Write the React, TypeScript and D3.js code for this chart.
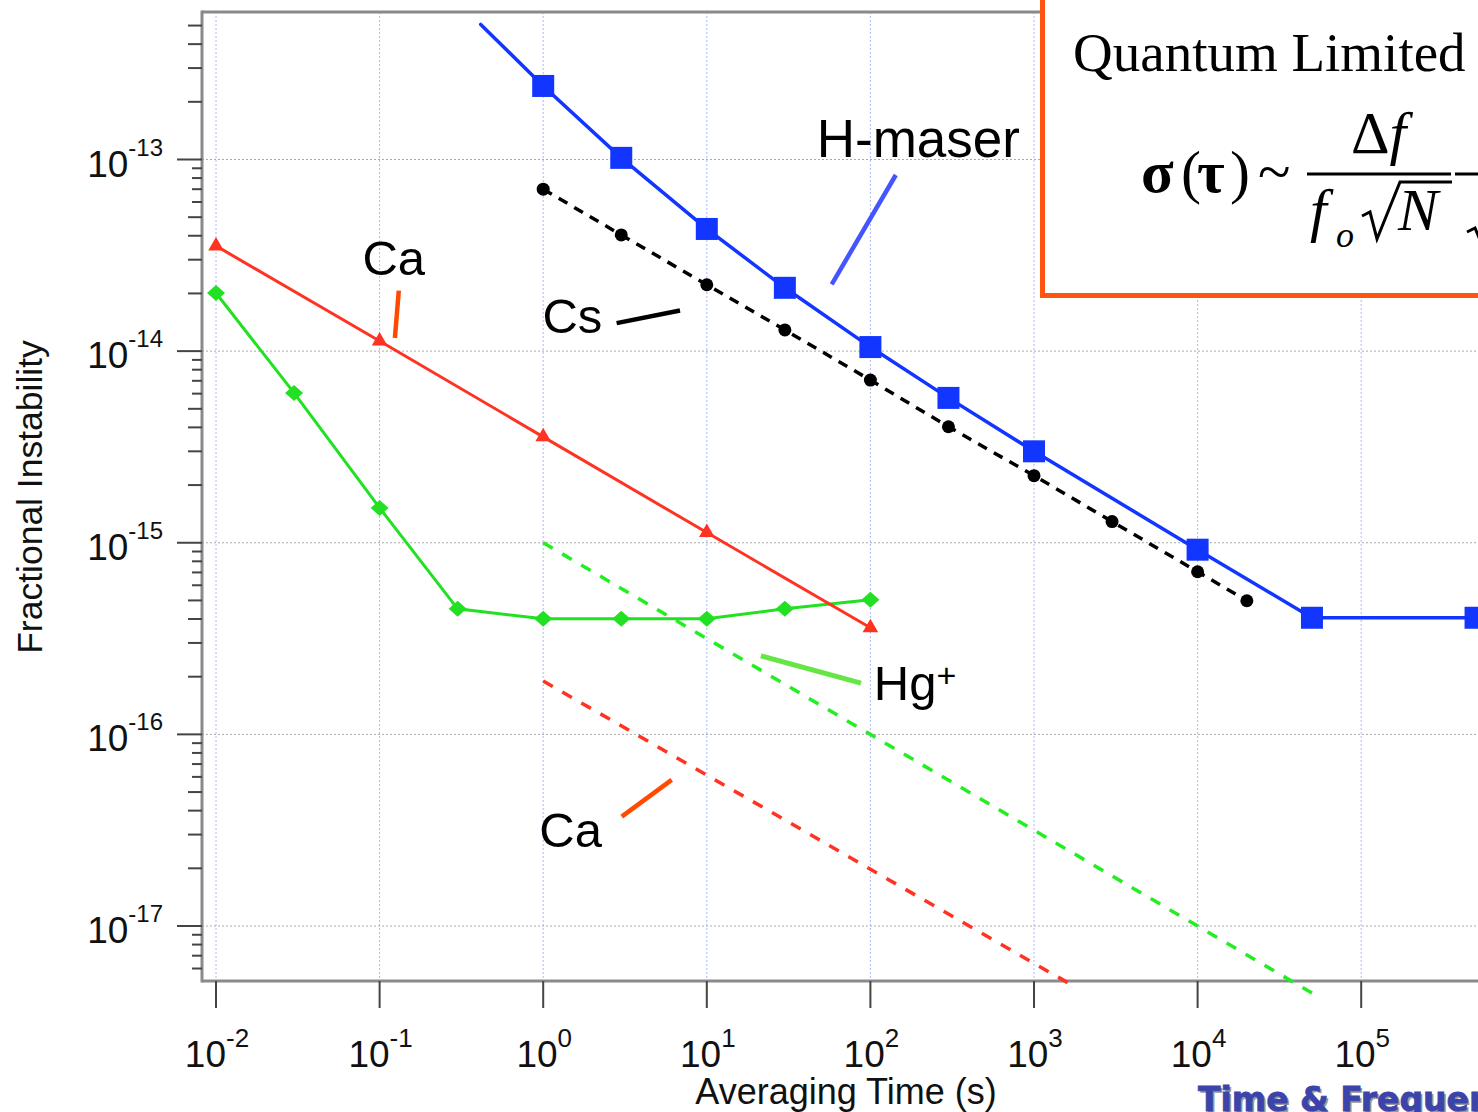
import React from 'react';
import * as d3 from 'd3';

const W = 1478;
const H = 1112;

// ---------- data ----------
const hmaserTau = [1, 3, 10, 30, 100, 300, 1000, 10000, 50000, 500000];
const hmaserSigma = [2.42e-13, 1.02e-13, 4.34e-14, 2.14e-14, 1.05e-14, 5.7e-15, 3.0e-15, 9.2e-16, 4.06e-16, 4.06e-16];
const hmaserLeadTau = [0.415, 1];
const hmaserLeadSigma = [5.07e-13, 2.42e-13];
const hmaserTailTau = [500000, 3000000];
const hmaserTailSigma = [4.06e-16, 4.06e-16];

const csTau = [1, 3, 10, 30, 100, 300, 1000, 3000, 10000, 20000];
const csSigma = [7.0e-14, 4.04e-14, 2.22e-14, 1.29e-14, 7.06e-15, 4.03e-15, 2.24e-15, 1.29e-15, 7.06e-16, 4.98e-16];

const caTau = [0.01, 0.1, 1, 10, 100];
const caSigma = [3.54e-14, 1.13e-14, 3.57e-15, 1.13e-15, 3.6e-16];

const hgTau = [0.01, 0.03, 0.1, 0.3, 1, 3, 10, 30, 100];
const hgSigma = [2.01e-14, 6.05e-15, 1.52e-15, 4.52e-16, 4.01e-16, 4.01e-16, 4.01e-16, 4.52e-16, 5.04e-16];

const hgLimitTau = [1, 50000];
const hgLimitSigma = [1.0e-15, 4.47e-18];
const caLimitTau = [1, 1615];
const caLimitSigma = [1.9e-16, 5.05e-18];

const xTickExps = [-2, -1, 0, 1, 2, 3, 4, 5];
const xGridExps = [-2, -1, 0, 1, 2, 3, 4, 5, 6];
const yTickExps = [-13, -14, -15, -16, -17];

const labelText = ['H-maser', 'Cs', 'Ca', 'Hg', 'Ca'];
const labelSup = ['', '', '', '+', ''];
const labelTau = [47, 0.99, 0.0786, 105, 0.946];
const labelSigma = [1.03e-13, 1.245e-14, 2.5e-14, 1.51e-16, 2.58e-17];
const labelSize = [53, 49, 49, 49, 49];

const pointerTauA = [143, 2.81, 0.131, 21.4, 3.02];
const pointerTauB = [58, 6.86, 0.124, 87.6, 6.1];
const pointerSigmaA = [8.3e-14, 1.4e-14, 2.07e-14, 2.57e-16, 3.72e-17];
const pointerSigmaB = [2.23e-14, 1.63e-14, 1.17e-14, 1.85e-16, 5.79e-17];
const pointerColor = ['#4455ff', '#000000', '#ff4a00', '#66e644', '#ff4a00'];

// ---------- styles ----------
const BLUE = '#1236ff';
const RED = '#ff3322';
const GREEN = '#22e022';
const FRAME = '#8a8a8a';
const SANS = 'Liberation Sans, Arial, sans-serif';
const SERIF = 'Liberation Serif, Times New Roman, serif';

const x = d3.scaleLog().domain([1e-2, 1e5]).range([216, 1361.2]);
const y = d3.scaleLog().domain([1e-13, 1e-17]).range([159.5, 926]);

const LEFT = 202;
const TOP = 12;
const BOTTOM = 981;

function pts(t: number[], s: number[]): [number, number][] {
  return t.map((v, i) => [x(v), y(s[i])] as [number, number]);
}
const line = d3.line<[number, number]>();

const diamond = (cx: number, cy: number) =>
  `M${cx},${cy - 8}L${cx + 9},${cy}L${cx},${cy + 8}L${cx - 9},${cy}Z`;
const triangle = d3.symbol().type(d3.symbolTriangle).size(105);

export default function App() {
  const yMinor: number[] = [];
  for (let e = -18; e <= -13; e++) {
    for (let m = 2; m <= 9; m++) {
      const v = m * Math.pow(10, e);
      const py = y(v);
      if (py > TOP + 2 && py < BOTTOM - 2) yMinor.push(v);
    }
  }

  return (
    <svg width={W} height={H} style={{ position: 'absolute', left: 0, top: 0, background: '#fff' }}>
      <rect x={0} y={0} width={W} height={H} fill="#fff" />
      {/* grid */}
      {xGridExps.map((e) => (
        <line key={'gx' + e} x1={x(Math.pow(10, e))} x2={x(Math.pow(10, e))} y1={TOP} y2={BOTTOM}
          stroke="#a9b8ff" strokeWidth={1} strokeDasharray="2,2" />
      ))}
      {yTickExps.map((e) => (
        <line key={'gy' + e} x1={LEFT} x2={W} y1={y(Math.pow(10, e))} y2={y(Math.pow(10, e))}
          stroke="#aaaaaa" strokeWidth={1} strokeDasharray="2,2" />
      ))}

      {/* frame */}
      <line x1={LEFT} x2={W + 10} y1={TOP} y2={TOP} stroke={FRAME} strokeWidth={3} />
      <line x1={LEFT} x2={W + 10} y1={BOTTOM} y2={BOTTOM} stroke={FRAME} strokeWidth={3} />
      <line x1={LEFT} x2={LEFT} y1={TOP - 1.5} y2={BOTTOM + 1.5} stroke={FRAME} strokeWidth={3} />

      {/* y ticks */}
      {yTickExps.map((e) => (
        <line key={'yt' + e} x1={177} x2={LEFT} y1={y(Math.pow(10, e))} y2={y(Math.pow(10, e))}
          stroke="#444" strokeWidth={2} />
      ))}
      {yMinor.map((v, i) => {
        const m = Math.round(v / Math.pow(10, Math.floor(Math.log10(v) + 1e-9)));
        const len = m <= 5 ? 14 : 10;
        return <line key={'ym' + i} x1={LEFT - len} x2={LEFT} y1={y(v)} y2={y(v)} stroke="#444" strokeWidth={2} />;
      })}
      {yTickExps.map((e) => (
        <text key={'yl' + e} x={163} y={y(Math.pow(10, e)) + 17} textAnchor="end" fontFamily={SANS}
          fontSize={37} fill="#111">
          10<tspan fontSize={24} dy={-21}>{String(e)}</tspan>
        </text>
      ))}

      {/* x ticks */}
      {xGridExps.map((e) => (
        <line key={'xt' + e} x1={x(Math.pow(10, e))} x2={x(Math.pow(10, e))} y1={BOTTOM} y2={1008}
          stroke="#444" strokeWidth={2} />
      ))}
      {xTickExps.map((e) => (
        <text key={'xl' + e} x={x(Math.pow(10, e)) + 1} y={1067} textAnchor="middle" fontFamily={SANS}
          fontSize={37} fill="#111">
          10<tspan fontSize={26} dy={-20}>{String(e)}</tspan>
        </text>
      ))}

      {/* axis titles */}
      <text x={846} y={1104} textAnchor="middle" fontFamily={SANS} fontSize={36} fill="#111">
        Averaging Time (s)
      </text>
      <text transform="translate(42,497) rotate(-90)" textAnchor="middle" fontFamily={SANS} fontSize={35.5} fill="#111">
        Fractional Instability
      </text>

      {/* quantum limits (dashed) */}
      <path d={line(pts(caLimitTau, caLimitSigma)) || ''} fill="none" stroke={RED} strokeWidth={3.5}
        strokeDasharray="11,11" />
      <path d={line(pts(hgLimitTau, hgLimitSigma)) || ''} fill="none" stroke="#22ee22" strokeWidth={3.5}
        strokeDasharray="11,11" />

      {/* Hg+ */}
      <path d={line(pts(hgTau, hgSigma)) || ''} fill="none" stroke={GREEN} strokeWidth={3} />
      {pts(hgTau, hgSigma).map(([px, py], i) => (
        <path key={'hg' + i} d={diamond(px, py)} fill={GREEN} />
      ))}

      {/* Ca */}
      <path d={line(pts(caTau, caSigma)) || ''} fill="none" stroke={RED} strokeWidth={3} />
      {pts(caTau, caSigma).map(([px, py], i) => (
        <path key={'ca' + i} d={triangle() || ''} transform={`translate(${px},${py})`} fill={RED} />
      ))}

      {/* Cs */}
      <path d={line(pts(csTau, csSigma)) || ''} fill="none" stroke="#000" strokeWidth={3.5}
        strokeDasharray="10,8" />
      {pts(csTau, csSigma).map(([px, py], i) => (
        <circle key={'cs' + i} cx={px} cy={py} r={6.5} fill="#000" />
      ))}

      {/* H-maser */}
      <path d={line(pts(hmaserLeadTau, hmaserLeadSigma)) || ''} fill="none" stroke={BLUE} strokeWidth={3.5} strokeLinecap="round" />
      <path d={line(pts(hmaserTau, hmaserSigma)) || ''} fill="none" stroke={BLUE} strokeWidth={3.5} />
      <path d={line(pts(hmaserTailTau, hmaserTailSigma)) || ''} fill="none" stroke={BLUE} strokeWidth={3.5} />
      {pts(hmaserTau, hmaserSigma).map(([px, py], i) => (
        <rect key={'hm' + i} x={px - 11} y={py - 11} width={22} height={22} fill={BLUE} />
      ))}

      {/* annotation pointers */}
      {pointerTauA.map((t, i) => (
        <line key={'pt' + i} x1={x(t)} y1={y(pointerSigmaA[i])} x2={x(pointerTauB[i])} y2={y(pointerSigmaB[i])}
          stroke={pointerColor[i]} strokeWidth={i === 3 ? 5 : 4.5} />
      ))}
      {labelText.map((t, i) => (
        <text key={'lb' + i} x={x(labelTau[i])} y={y(labelSigma[i])} fontFamily={SANS} fontSize={labelSize[i]} fill="#000">
          {t}
          {labelSup[i] ? <tspan fontSize={34} dy={-13}>{labelSup[i]}</tspan> : null}
        </text>
      ))}

      {/* Quantum limited box */}
      <rect x={1042.5} y={-20} width={520} height={315.5} fill="#fff" stroke="#ff5512" strokeWidth={5} />
      <text x={1073} y={71} fontFamily={SERIF} fontSize={55} fill="#000">Quantum Limited</text>
      <text x={1141} y={192} fontFamily={SERIF} fontSize={60} fill="#000">
        <tspan fontWeight="bold">σ</tspan>
        <tspan x={1181}>(</tspan>
        <tspan x={1197} fontWeight="bold">τ</tspan>
        <tspan x={1230}>)</tspan>
        <tspan x={1258}>~</tspan>
      </text>
      <text x={1351} y={153} fontFamily={SERIF} fontSize={60} fill="#000">
        Δ<tspan fontStyle="italic">f</tspan>
      </text>
      <text x={1310} y={230} fontFamily={SERIF} fontSize={60} fill="#000">
        <tspan fontStyle="italic">f</tspan>
        <tspan x={1336} dy={17} fontStyle="italic" fontSize={36}>o</tspan>
        <tspan x={1398} dy={-17} fontStyle="italic">N</tspan>
      </text>
      <line x1={1307} x2={1451} y1={174} y2={174} stroke="#000" strokeWidth={3} />
      <line x1={1455} x2={1490} y1={174} y2={174} stroke="#000" strokeWidth={3} />
      <path d="M1362,216L1370,212L1377,239L1400,182L1452,182" fill="none" stroke="#000" strokeWidth={3} strokeLinejoin="miter" />
      <path d="M1467,232L1475,228L1480,240" fill="none" stroke="#000" strokeWidth={3} />

      {/* footer */}
      <text x={1200} y={1113} fontFamily="DejaVu Sans, sans-serif" fontWeight="bold" fontSize={33} fill="#9a9a9a">
        Time &amp; Frequency Division
      </text>
      <text x={1198} y={1111} fontFamily="DejaVu Sans, sans-serif" fontWeight="bold" fontSize={33} fill="#3a44aa"
        stroke="#3a44aa" strokeWidth={0.8}>
        Time &amp; Frequency Division
      </text>
    </svg>
  );
}
